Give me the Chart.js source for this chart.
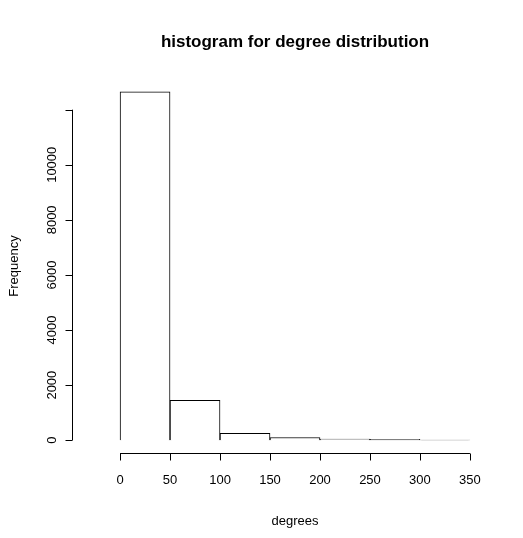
<!DOCTYPE html>
<html>
<head>
<script src="https://cdn.jsdelivr.net/npm/chart.js@4"></script>
<style>
  body { margin: 0; background: #fff; }
  #wrap { width: 523px; height: 538px; }
</style>
</head>
<body>
<div id="wrap"><canvas id="hist"></canvas></div>
<script>
// bin midpoints (width 50) and counts
const binMids = [25, 75, 125, 175, 225, 275, 325];
const counts = [12650, 1450, 250, 100, 40, 30, 3];
const xTicks = [0, 50, 100, 150, 200, 250, 300, 350];
const yTicks = [0, 2000, 4000, 6000, 8000, 10000, 12000];
const yLabels = ['0', '2000', '4000', '6000', '8000', '10000', ''];

// R-style axes, offset from the plot region
const rAxes = {
  id: 'rAxes',
  afterDraw(chart) {
    const ctx = chart.ctx, x = chart.scales.x, y = chart.scales.y;
    ctx.save();
    ctx.strokeStyle = '#000';
    ctx.lineWidth = 1;
    ctx.fillStyle = '#000';
    ctx.font = '13px Arial, "Liberation Sans", sans-serif';
    const ax = 453.5;
    ctx.beginPath();
    ctx.moveTo(x.getPixelForValue(0), ax);
    ctx.lineTo(x.getPixelForValue(350), ax);
    xTicks.forEach(t => {
      const px = Math.round(x.getPixelForValue(t)) + 0.5;
      ctx.moveTo(px, ax); ctx.lineTo(px, ax + 7);
    });
    const ay = 72.5;
    ctx.moveTo(ay, y.getPixelForValue(0));
    ctx.lineTo(ay, y.getPixelForValue(12000));
    yTicks.forEach(t => {
      const py = Math.round(y.getPixelForValue(t)) + 0.5;
      ctx.moveTo(ay, py); ctx.lineTo(ay - 7, py);
    });
    ctx.stroke();
    ctx.textAlign = 'center';
    ctx.textBaseline = 'middle';
    xTicks.forEach(t => ctx.fillText(String(t), x.getPixelForValue(t), 480));
    yTicks.forEach((t, i) => {
      ctx.save();
      ctx.translate(52, y.getPixelForValue(t));
      ctx.rotate(-Math.PI / 2);
      ctx.fillText(yLabels[i], 0, 0);
      ctx.restore();
    });
    ctx.fillText('degrees', 295, 521);
    ctx.save();
    ctx.translate(14, 266);
    ctx.rotate(-Math.PI / 2);
    ctx.fillText('Frequency', 0, 0);
    ctx.restore();
    ctx.font = 'bold 17px Arial, "Liberation Sans", sans-serif';
    ctx.fillText('histogram for degree distribution', 295, 42);
    ctx.restore();
  }
};

new Chart(document.getElementById('hist'), {
  type: 'bar',
  data: {
    datasets: [{
      data: binMids.map((m, i) => ({ x: m, y: counts[i] })),
      backgroundColor: '#fff',
      borderColor: '#000',
      borderWidth: 1,
      barPercentage: 1,
      categoryPercentage: 1
    }]
  },
  options: {
    responsive: true,
    maintainAspectRatio: false,
    animation: false,
    layout: { padding: { top: 78, right: 10, left: 0, bottom: 0 } },
    plugins: { legend: { display: false }, tooltip: { enabled: false } },
    scales: {
      x: {
        type: 'linear', min: -13, max: 366,
        grid: { display: false }, border: { display: false },
        ticks: { display: false },
        afterFit(s) { s.height = 84; }
      },
      y: {
        min: -500, max: 13150,
        grid: { display: false }, border: { display: false },
        ticks: { display: false },
        afterFit(s) { s.width = 80; }
      }
    }
  },
  plugins: [rAxes]
});
</script>
</body>
</html>
